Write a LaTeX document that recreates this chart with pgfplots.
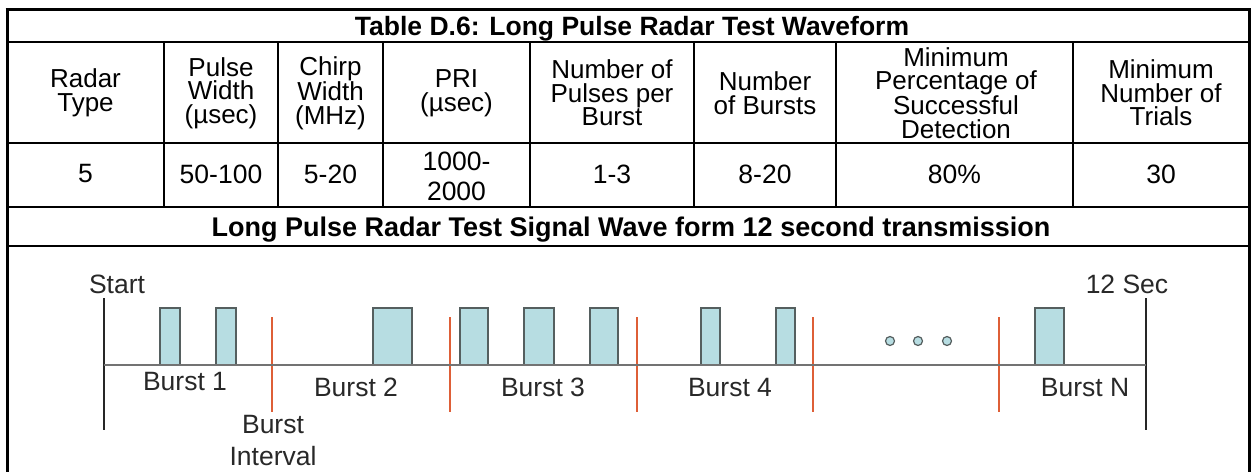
\documentclass[border=0pt]{standalone}
\usepackage{pgfplots}
\pgfplotsset{compat=1.18}
\usepackage{fontspec}
\setmainfont{Liberation Sans}
\definecolor{pulsefill}{RGB}{183,221,226}
\definecolor{pulsedraw}{RGB}{85,95,95}
\definecolor{redline}{RGB}{222,95,55}
\definecolor{basegray}{RGB}{115,115,115}
\definecolor{labgray}{RGB}{40,40,40}

\begin{document}
\begin{tikzpicture}
\begin{axis}[name=ax, scale only axis, width=1252pt, height=472pt,
  xmin=0, xmax=1252, ymin=0, ymax=472, y dir=reverse, hide axis, clip=false]

% ---------- table grid ----------
\draw[line width=3pt] (axis cs:5.5,9) -- (axis cs:1250.5,9);
\draw[line width=3pt] (axis cs:7,9) -- (axis cs:7,472);
\draw[line width=3pt] (axis cs:1249,9) -- (axis cs:1249,472);
\draw[line width=2pt] (axis cs:7,42) -- (axis cs:1249,42);
\draw[line width=2pt] (axis cs:7,143) -- (axis cs:1249,143);
\draw[line width=2.6pt] (axis cs:7,207) -- (axis cs:1249,207);
\draw[line width=2.6pt] (axis cs:7,246) -- (axis cs:1249,246);
\foreach \cx in {164,278,383,530,694,836,1073}{
  \edef\tmp{\noexpand\draw[line width=2pt] (axis cs:\cx,42) -- (axis cs:\cx,207);}\tmp
}

% ---------- titles ----------
\node[anchor=base, font=\fontsize{26.5}{28}\selectfont\bfseries] at (axis cs:632,35)
  {Table D.6: Long Pulse Radar Test Waveform};
\node[anchor=base, font=\fontsize{27}{28}\selectfont\bfseries] at (axis cs:631,236)
  {Long Pulse Radar Test Signal Wave form 12 second transmission};

% ---------- header ----------
\tikzset{hd/.style={anchor=center, align=center, font=\fontsize{26}{23.5}\selectfont}}
\node[hd] at (axis cs:85.5,93) {Radar\\Type};
\node[hd] at (axis cs:221,93) {Pulse\\Width\\(µsec)};
\node[hd] at (axis cs:330.5,93) {Chirp\\Width\\(MHz)};
\node[hd] at (axis cs:456.5,93) {PRI\\(µsec)};
\node[hd] at (axis cs:612,93) {Number of\\Pulses per\\Burst};
\node[hd] at (axis cs:765,93) {Number\\of Bursts};
\node[hd] at (axis cs:956,93) {Minimum\\Percentage of\\Successful\\Detection};
\node[hd] at (axis cs:1161,93) {Minimum\\Number of\\Trials};

% ---------- data row ----------
\tikzset{dt/.style={anchor=center, align=center, font=\fontsize{26.5}{30}\selectfont}}
\node[dt] at (axis cs:85.5,174) {5};
\node[dt] at (axis cs:221,174) {50-100};
\node[dt] at (axis cs:330.5,174) {5-20};
\node[dt] at (axis cs:456.5,176) {1000-\\2000};
\node[dt] at (axis cs:612,174) {1-3};
\node[dt] at (axis cs:765,174) {8-20};
\node[dt] at (axis cs:954.5,174) {80\%};
\node[dt] at (axis cs:1161,174) {30};

% ---------- waveform diagram ----------
% start / end markers
\addplot[black!85, line width=1.5pt] coordinates {(104,298) (104,430)};
\addplot[black!85, line width=1.5pt] coordinates {(1146,298) (1146,430)};
% burst interval separators
\addplot[redline, line width=1.5pt] coordinates {(272,317) (272,412)};
\addplot[redline, line width=1.5pt] coordinates {(450,317) (450,412)};
\addplot[redline, line width=1.5pt] coordinates {(637,317) (637,412)};
\addplot[redline, line width=1.5pt] coordinates {(813,317) (813,412)};
\addplot[redline, line width=1.5pt] coordinates {(999,317) (999,412)};
% pulses
\pgfplotsset{pulse/.style={fill=pulsefill, draw=pulsedraw, line width=1.4pt}}
\addplot[pulse] coordinates {(160,365) (160,308) (180,308) (180,365)} -- cycle;
\addplot[pulse] coordinates {(216,365) (216,308) (236,308) (236,365)} -- cycle;
\addplot[pulse] coordinates {(373,365) (373,308) (412,308) (412,365)} -- cycle;
\addplot[pulse] coordinates {(460,365) (460,308) (488,308) (488,365)} -- cycle;
\addplot[pulse] coordinates {(524,365) (524,308) (554,308) (554,365)} -- cycle;
\addplot[pulse] coordinates {(590,365) (590,308) (618,308) (618,365)} -- cycle;
\addplot[pulse] coordinates {(701,365) (701,308) (720,308) (720,365)} -- cycle;
\addplot[pulse] coordinates {(776,365) (776,308) (795,308) (795,365)} -- cycle;
\addplot[pulse] coordinates {(1035,365) (1035,308) (1064,308) (1064,365)} -- cycle;
% time axis
\addplot[basegray, line width=1.5pt] coordinates {(104,365) (1146,365)};
% ellipsis dots
\addplot[only marks, mark=*, mark size=4.5pt,
  mark options={fill=pulsefill, draw=pulsedraw, line width=1.2pt}]
  coordinates {(890,341) (918,341) (947,341)};

% labels
\tikzset{lb/.style={anchor=base, text=labgray, font=\fontsize{26.5}{30}\selectfont}}
\node[lb] at (axis cs:117,293) {Start};
\node[lb] at (axis cs:1127,293) {12 Sec};
\node[lb] at (axis cs:185,390) {Burst 1};
\node[lb] at (axis cs:356,396) {Burst 2};
\node[lb] at (axis cs:543,396) {Burst 3};
\node[lb] at (axis cs:730,396) {Burst 4};
\node[lb] at (axis cs:1085,396) {Burst N};
\node[lb] at (axis cs:273,433) {Burst};
\node[lb] at (axis cs:273,465) {Interval};
\end{axis}
\pgfresetboundingbox
\path (ax.south west) rectangle (ax.north east);
\end{tikzpicture}
\end{document}
